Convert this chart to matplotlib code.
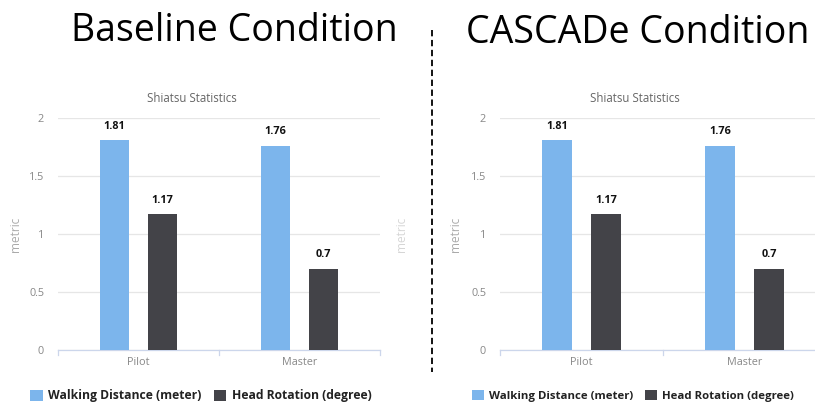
import matplotlib
matplotlib.use('Agg')
import matplotlib.pyplot as plt
import numpy as np
from matplotlib.lines import Line2D

# data (both panels show the same numbers)
categories = ['Pilot', 'Master']
walking = [1.81, 1.76]
head = [1.17, 0.7]
series_names = ['Walking Distance (meter)', 'Head Rotation (degree)']
panel_titles = ['Baseline Condition', 'CASCADe Condition']
yticks = [0, 0.5, 1, 1.5, 2]

BLUE = '#7cb5ec'
DARK = '#434348'
W, H = 815, 404

fig = plt.figure(figsize=(W / 100, H / 100), dpi=100)
plt.rcParams['font.family'] = ['Open Sans', 'DejaVu Sans']


def px_axes(x0, x1, y_top, y_bot):
    return fig.add_axes([x0 / W, 1 - y_bot / H, (x1 - x0) / W, (y_bot - y_top) / H])


def draw_chart(ax, title_x, legend_x, metric_x, legend_size, extra_metric_x=None):
    x = np.arange(len(categories))
    off, bw = 0.15, 0.18
    b1 = ax.bar(x - off, walking, bw, color=BLUE, zorder=3)
    b2 = ax.bar(x + off, head, bw, color=DARK, zorder=3)
    for bars, vals in ((b1, walking), (b2, head)):
        for r, v in zip(bars, vals):
            ax.annotate(f'{v:g}', (r.get_x() + r.get_width() / 2, v),
                        xytext=(0, 10), textcoords='offset points',
                        ha='center', va='center', fontsize=7.8,
                        fontweight='bold', color='#111111')
    ax.set_xlim(-0.5, len(categories) - 0.5)
    ax.set_ylim(0, 2)
    ax.set_yticks(yticks)
    ax.set_yticklabels([f'{t:g}' for t in yticks])
    ax.set_xticks(x)
    ax.set_xticklabels(categories)
    ax.tick_params(axis='y', length=0, pad=10, labelsize=7.8, labelcolor='#888888')
    ax.tick_params(axis='x', length=0, pad=5, labelsize=7.8, labelcolor='#888888')
    # category boundary ticks below the axis
    for b in np.arange(-0.5, len(categories), 1.0):
        ax.plot([b, b], [0, -0.045], color='#ccd6eb', lw=0.9, clip_on=False)
    ax.grid(axis='y', color='#e6e6e6', lw=0.9, zorder=0)
    ax.set_axisbelow(True)
    for s in ('top', 'right', 'left'):
        ax.spines[s].set_visible(False)
    ax.spines['bottom'].set_color('#ccd6eb')
    ax.spines['bottom'].set_linewidth(0.9)

    fig.text(title_x / W, 1 - 99 / H, 'Shiatsu Statistics', ha='center',
             va='center', fontsize=8.3, color='#666666')
    fig.text(metric_x / W, 1 - 234 / H, 'metric', rotation=90, ha='center',
             va='center', fontsize=8.5, color='#aaaaaa')
    if extra_metric_x is not None:
        fig.text(extra_metric_x / W, 1 - 234 / H, 'metric', rotation=90,
                 ha='center', va='center', fontsize=8.5, color='#d6d6d6')

    leg = ax.legend([b1, b2], series_names, loc='center left',
                    bbox_to_anchor=(legend_x / W, 1 - 396 / H),
                    bbox_transform=fig.transFigure, ncol=2, frameon=False,
                    handlelength=1.05, handleheight=1.05, handletextpad=0.45,
                    columnspacing=1.0, borderaxespad=0, borderpad=0,
                    prop={'size': legend_size, 'weight': 'bold'})
    for t in leg.get_texts():
        t.set_color('#222222')


axL = px_axes(58, 380, 118, 350)
draw_chart(axL, 192, 30, 16, 8.7, extra_metric_x=401)
axR = px_axes(500, 826, 118, 350)
draw_chart(axR, 635, 472, 456, 8.2)

# headings
fig.text(234 / W, 1 - 41 / H, panel_titles[0], ha='center', va='baseline',
         fontsize=27, family=['Open Sans', 'DejaVu Sans'], color='black')
fig.text(638 / W, 1 - 43 / H, panel_titles[1], ha='center', va='baseline',
         fontsize=27, family=['Open Sans', 'DejaVu Sans'], color='black')

# dashed divider
fig.add_artist(Line2D([432 / W, 432 / W], [1 - 30 / H, 1 - 372 / H],
                      transform=fig.transFigure, color='black', lw=1.3,
                      linestyle=(0, (3.5, 2))))

fig.savefig('out.png', dpi=100)
